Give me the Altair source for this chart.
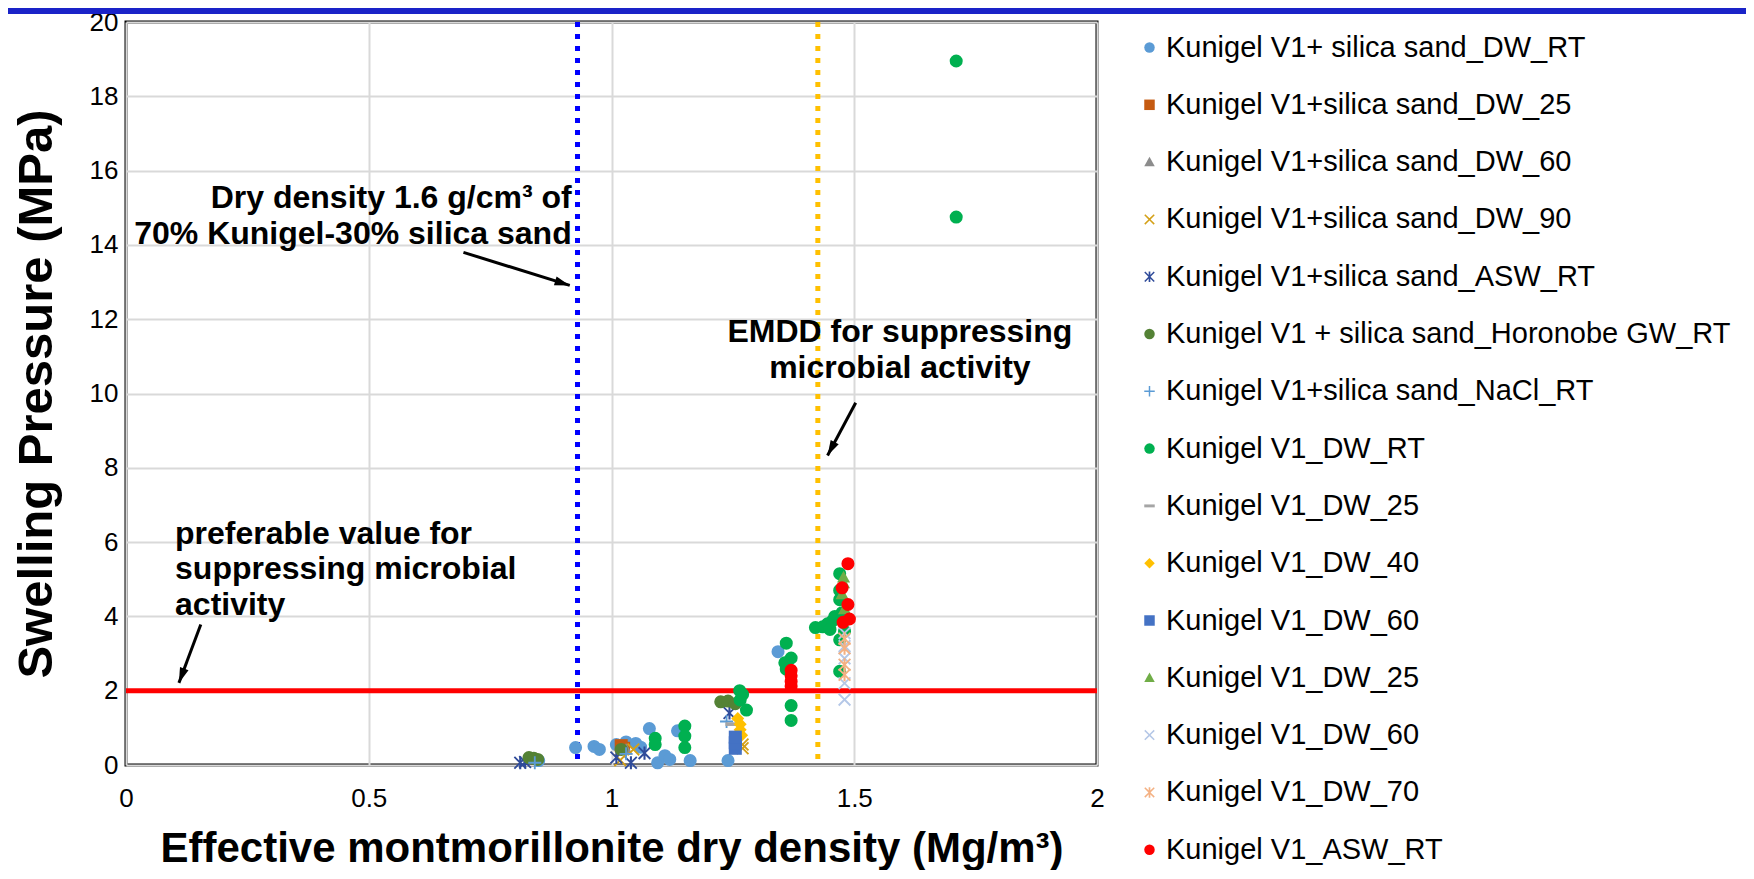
import math
import altair as alt
import pandas as pd

# ---------------- data ----------------
series_names = [
    "Kunigel V1+ silica sand_DW_RT",
    "Kunigel V1+silica sand_DW_25",
    "Kunigel V1+silica sand_DW_60",
    "Kunigel V1+silica sand_DW_90",
    "Kunigel V1+silica sand_ASW_RT",
    "Kunigel V1 + silica sand_Horonobe GW_RT",
    "Kunigel V1+silica sand_NaCl_RT",
    "Kunigel V1_DW_RT",
    "Kunigel V1_DW_25",
    "Kunigel V1_DW_40",
    "Kunigel V1_DW_60",
    "Kunigel V1_DW_25",
    "Kunigel V1_DW_60",
    "Kunigel V1_DW_70",
    "Kunigel V1_ASW_RT",
]

series_colors = [
    "#5b9bd5", "#c55a11", "#8c8c8c", "#d4a017", "#2f4b9a",
    "#548235", "#5b9bd5", "#00b050", "#a5a5a5", "#ffc000",
    "#4472c4", "#70ad47", "#b4c7e7", "#f4b183", "#ff0000",
]

# marker outlines (normalised to [-1, 1])
CIRCLE = "circle"
SQUARE = "square"
TRIANGLE = "M0,-1L1,0.8L-1,0.8Z"
XMARK = ("M-1,-0.8L-0.8,-1L0,-0.2L0.8,-1L1,-0.8L0.2,0L1,0.8L0.8,1L0,0.2"
         "L-0.8,1L-1,0.8L-0.2,0Z")
STAR = XMARK + "M-0.16,-1L0.16,-1L0.16,1L-0.16,1Z"
PLUS = ("M-0.14,-1L0.14,-1L0.14,-0.14L1,-0.14L1,0.14L0.14,0.14L0.14,1"
        "L-0.14,1L-0.14,0.14L-1,0.14L-1,-0.14L-0.14,-0.14Z")
DASH = "M-1,-0.28L1,-0.28L1,0.28L-1,0.28Z"
DIAMOND = "diamond"

series_shapes = [CIRCLE, SQUARE, TRIANGLE, XMARK, STAR, CIRCLE, PLUS, CIRCLE,
                 DASH, DIAMOND, SQUARE, TRIANGLE, XMARK, STAR, CIRCLE]

x_values = [
    [0.85, 0.926, 0.964, 0.975, 1.01, 1.03, 1.05, 1.06, 1.078, 1.095, 1.11,
     1.12, 1.136, 1.162, 1.24, 1.343],
    [1.02, 1.025],
    [1.03],
    [1.018, 1.045, 1.27, 1.27],
    [0.812, 0.822, 1.01, 1.04, 1.068, 1.243],
    [0.83, 0.84, 0.848, 1.02, 1.225, 1.24, 1.255],
    [0.842, 1.03, 1.237],
    [1.09, 1.09, 1.151, 1.151, 1.151, 1.264, 1.265, 1.278, 1.27, 1.36, 1.37,
     1.357, 1.36, 1.37, 1.37, 1.42, 1.435, 1.445, 1.455, 1.46, 1.45, 1.47,
     1.47, 1.47, 1.475, 1.47, 1.47, 1.48, 1.71, 1.71],
    [1.248],
    [1.26, 1.265, 1.265, 1.268],
    [1.255, 1.255, 1.255],
    [1.478, 1.478, 1.475, 1.48],
    [1.48, 1.48, 1.48, 1.48, 1.48],
    [1.48, 1.48, 1.48, 1.48],
    [1.37, 1.37, 1.37, 1.37, 1.487, 1.475, 1.487, 1.477, 1.49],
]

y_values = [
    [0.12, 0.47, 0.50, 0.42, 0.55, 0.62, 0.58, 0.48, 0.98, 0.06, 0.25,
     0.15, 0.92, 0.12, 0.12, 3.05],
    [0.52, 0.45],
    [0.42],
    [0.13, 0.42, 0.55, 0.45],
    [0.06, 0.08, 0.20, 0.06, 0.32, 1.40],
    [0.20, 0.18, 0.15, 0.42, 1.70, 1.72, 1.65],
    [0.06, 0.30, 1.17],
    [0.72, 0.55, 1.05, 0.78, 0.47, 2.00, 1.75, 1.48, 1.90, 3.28, 2.88,
     2.75, 2.58, 1.60, 1.20, 3.70, 3.72, 3.80, 3.88, 4.00, 3.65, 5.15,
     4.70, 4.45, 4.10, 3.37, 2.52, 3.60, 18.95, 14.75],
    [1.10],
    [1.25, 1.10, 0.95, 0.80],
    [0.45, 0.60, 0.75],
    [5.05, 4.90, 4.60, 4.20],
    [3.55, 3.20, 2.87, 2.20, 1.76],
    [3.40, 3.14, 2.70, 2.43],
    [2.55, 2.40, 2.25, 2.12, 5.42, 4.77, 4.32, 3.84, 3.93],
]

x_ticks = [0, 0.5, 1, 1.5, 2]
y_ticks = [0, 2, 4, 6, 8, 10, 12, 14, 16, 18, 20]

vline_x = [0.93, 1.425]
vline_color = ["#0000ff", "#ffc000"]
hline_y = [2]

notes_text = ["Dry density 1.6 g/cm³ of", "70% Kunigel-30% silica sand",
              "EMDD for suppressing", "microbial activity",
              "preferable value for", "suppressing microbial", "activity"]
notes_x = [0.918, 0.918, 1.594, 1.594, 0.101, 0.101, 0.101]
notes_y = [15.27, 14.28, 11.65, 10.69, 6.23, 5.27, 4.31]
notes_align = ["right", "right", "center", "center", "left", "left", "left"]

arrow_x0 = [0.695, 1.503, 0.154]
arrow_y0 = [13.80, 9.75, 3.78]
arrow_x1 = [0.914, 1.445, 0.109]
arrow_y1 = [12.91, 8.33, 2.21]

# ---------------- chart ----------------
W, H = 971, 743
PAD = {"left": 118, "top": 14, "right": 649, "bottom": 105}
XMAX, YMAX = 2, 20
keys = [f"s{i + 1:02d}" for i in range(len(series_names))]

rows = []
for k, xs_, ys_ in zip(keys, x_values, y_values):
    for xv, yv in zip(xs_, ys_):
        rows.append({"key": k, "x": xv, "y": yv})
pts = pd.DataFrame(rows)

label_expr = "[" + ",".join("'" + n + "'" for n in series_names) + "][indexof(" + \
    "[" + ",".join("'" + k + "'" for k in keys) + "], datum.label)]"

xs = alt.Scale(domain=[0, XMAX], nice=False)
ys = alt.Scale(domain=[0, YMAX], nice=False)

points = alt.Chart(pts).mark_point(filled=True, opacity=1, size=170, strokeWidth=0).encode(
    x=alt.X("x:Q", scale=xs,
            axis=alt.Axis(values=x_ticks, format="~g", grid=True, labelFlush=False,
                          title="Effective montmorillonite dry density (Mg/m³)",
                          titleFontSize=42, labelPadding=20, titlePadding=17)),
    y=alt.Y("y:Q", scale=ys,
            axis=alt.Axis(values=y_ticks, grid=True,
                          title="Swelling Pressure (MPa)", titleFontSize=49,
                          labelPadding=8, titlePadding=28)),
    color=alt.Color("key:N", scale=alt.Scale(domain=keys, range=series_colors),
                    legend=alt.Legend(title=None, orient="none", legendX=1009,
                                      legendY=11, labelExpr=label_expr,
                                      labelFontSize=29, rowPadding=27.3,
                                      symbolSize=110, symbolStrokeWidth=0,
                                      labelOffset=2, padding=0,
                                      labelLimit=700)),
    shape=alt.Shape("key:N", scale=alt.Scale(domain=keys, range=series_shapes),
                    legend=None),
)

vdf = pd.DataFrame({"x": vline_x, "c": vline_color})
vlines = alt.Chart(vdf).mark_rule(strokeWidth=5, strokeDash=[5, 7]).encode(
    x=alt.X("x:Q", scale=xs),
    color=alt.Color("c:N", scale=None),
)

hdf = pd.DataFrame({"y": hline_y})
hline = alt.Chart(hdf).mark_rule(strokeWidth=5, color="#ff0000").encode(
    y=alt.Y("y:Q", scale=ys),
)

ndf = pd.DataFrame({"t": notes_text, "x": notes_x, "y": notes_y, "a": notes_align})
notes = []
for al in ["left", "center", "right"]:
    notes.append(
        alt.Chart(ndf[ndf["a"] == al]).mark_text(
            align=al, baseline="middle", fontSize=32, fontWeight="bold",
            color="black", font="Liberation Sans").encode(
            x=alt.X("x:Q", scale=xs), y=alt.Y("y:Q", scale=ys), text="t:N")
    )

angles = []
for a0, b0, a1, b1 in zip(arrow_x0, arrow_y0, arrow_x1, arrow_y1):
    dx = (a1 - a0) * W / XMAX
    dy = -(b1 - b0) * H / YMAX
    angles.append(math.degrees(math.atan2(dx, -dy)) % 360)

adf = pd.DataFrame({"x0": arrow_x0, "y0": arrow_y0, "x1": arrow_x1,
                    "y1": arrow_y1, "ang": angles})
shafts = alt.Chart(adf).mark_rule(strokeWidth=3, color="black").encode(
    x=alt.X("x0:Q", scale=xs), y=alt.Y("y0:Q", scale=ys),
    x2="x1:Q", y2="y1:Q",
)
heads = alt.Chart(adf).mark_point(
    filled=True, color="black", opacity=1, size=230, strokeWidth=0,
    shape="M0,0L0.6,2L-0.6,2Z").encode(
    x=alt.X("x1:Q", scale=xs), y=alt.Y("y1:Q", scale=ys),
    angle=alt.Angle("ang:Q", scale=None),
)

bar = alt.Chart(pd.DataFrame({"v": [0]})).mark_rect(color="#1a23c8").encode(
    x=alt.value(-PAD["left"]), x2=alt.value(W + PAD["right"]),
    y=alt.value(-PAD["top"]), y2=alt.value(-PAD["top"] + 6),
)

chart = alt.layer(
    bar, vlines, hline, shafts, heads, *notes, points
).properties(
    width=W, height=H,
    padding=PAD,
    autosize=alt.AutoSizeParams(type="none"),
).configure(
    font="Liberation Sans",
).configure_view(
    stroke="black", strokeWidth=3,
).configure_axis(
    labelFontSize=26, labelColor="black",
    titleFontWeight="bold", titleColor="black", ticks=False, domain=False,
    gridColor="#d9d9d9", gridWidth=2,
).configure_legend(
    labelColor="black", labelFont="Liberation Sans",
)

chart.save("out.html", embed_options={"renderer": "svg", "actions": False})
